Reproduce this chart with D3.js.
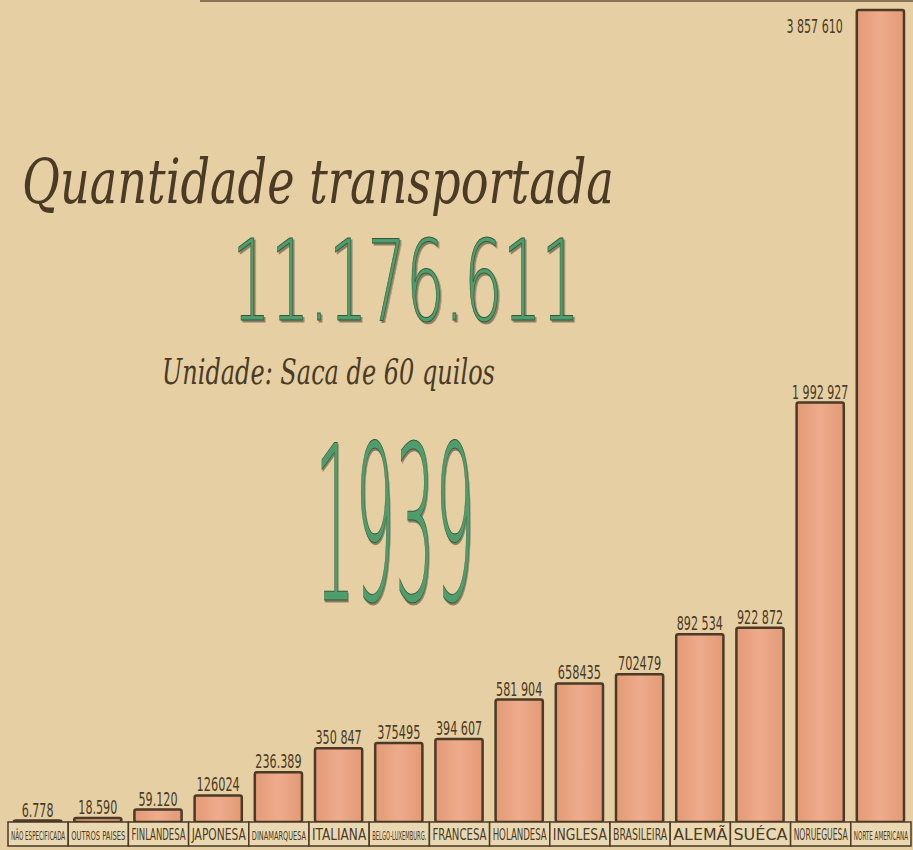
<!DOCTYPE html>
<html>
<head>
<meta charset="utf-8">
<script src="https://cdn.jsdelivr.net/npm/d3@7"></script>
<style>
  html, body { margin: 0; padding: 0; background: #e6cfa3; }
  svg { display: block; }
</style>
</head>
<body>
<div id="chart"></div>
<script>
const width = 913;
const height = 850;

// Bandeiras (categorias)
const categories = [
  "NÃO ESPECIFICADA", "OUTROS PAISES", "FINLANDESA", "JAPONESA", "DINAMARQUESA",
  "ITALIANA", "BELGO-LUXEMBURG.", "FRANCESA", "HOLANDESA", "INGLESA",
  "BRASILEIRA", "ALEMÃ", "SUÉCA", "NORUEGUESA", "NORTE AMERICANA"
];
const values = [
  6778, 18590, 59120, 126024, 236389,
  350847, 375495, 394607, 581904, 658435,
  702479, 892534, 922872, 1992927, 3857610
];
const valueLabels = [
  "6.778", "18.590", "59.120", "126024", "236.389",
  "350 847", "375495", "394 607", "581 904", "658435",
  "702479", "892 534", "922 872", "1 992 927", "3 857 610"
];

const ink = "#4a3a26";
const green = "#4f9d6c";

const svg = d3.select("#chart")
  .append("svg")
  .attr("width", width)
  .attr("height", height);

svg.append("rect")
  .attr("width", width)
  .attr("height", height)
  .attr("fill", "#e6cfa3");

// borda superior
svg.append("line")
  .attr("x1", 200).attr("x2", width)
  .attr("y1", 1).attr("y2", 1)
  .attr("stroke", ink).attr("stroke-width", 2).attr("opacity", 0.6);

const baseY = 822;

const x = d3.scaleBand()
  .domain(categories)
  .range([8, 911])
  .paddingInner(0);

const y = d3.scaleLinear()
  .domain([0, 3857610])
  .range([baseY, 10]);

const defs = svg.append("defs");
const grad = defs.append("linearGradient")
  .attr("id", "barFill")
  .attr("x1", "0").attr("x2", "1");
grad.append("stop").attr("offset", "0").attr("stop-color", "#e39a76");
grad.append("stop").attr("offset", "0.5").attr("stop-color", "#eeab8c");
grad.append("stop").attr("offset", "1").attr("stop-color", "#e39a76");

defs.append("filter")
  .attr("id", "shadow")
  .append("feDropShadow")
  .attr("dx", 3).attr("dy", 2).attr("stdDeviation", 0.4)
  .attr("flood-color", "#3c3a26").attr("flood-opacity", 0.55);

// texto estreito: escala horizontal até a largura desejada
function narrow(sel, targetLen, anchor) {
  sel.each(function (d, i) {
    const t = d3.select(this);
    const w = this.getComputedTextLength();
    const len = typeof targetLen === "function" ? targetLen(d, i) : targetLen;
    const sx = Math.min(1, len / w);
    const x0 = +t.attr("x"), y0 = +t.attr("y");
    t.attr("x", 0).attr("y", 0)
      .attr("text-anchor", anchor)
      .attr("transform", `translate(${x0},${y0}) scale(${sx},1)`);
  });
}

// Barras
svg.selectAll(".bar")
  .data(categories)
  .enter()
  .append("rect")
  .attr("class", "bar")
  .attr("x", d => x(d) + 6)
  .attr("y", (d, i) => y(values[i]))
  .attr("width", x.bandwidth() - 13)
  .attr("height", (d, i) => baseY - y(values[i]))
  .attr("rx", 2)
  .attr("fill", "url(#barFill)")
  .attr("stroke", ink)
  .attr("stroke-width", 2.5);

const labelLen = s => s.replace(/[^0-9]/g, "").length * 7.2 + s.replace(/[0-9]/g, "").length * 3;

// Valores
const last = categories.length - 1;
svg.selectAll(".val")
  .data(categories)
  .enter()
  .append("text")
  .attr("class", "val")
  .attr("x", (d, i) => i === last ? x(d) - 8 : x(d) + x.bandwidth() / 2 - 0.5)
  .attr("y", (d, i) => i === last ? 33 : y(values[i]) - 4)
  .attr("font-family", "'DejaVu Sans', sans-serif")
  .attr("font-size", 19)
  .attr("fill", ink)
  .text((d, i) => valueLabels[i])
  .call(narrow, (d, i) => labelLen(valueLabels[i]), null);

svg.selectAll(".val")
  .attr("text-anchor", (d, i) => i === last ? "end" : "middle");

// Caixas dos rótulos
const lab = svg.selectAll(".lab")
  .data(categories)
  .enter()
  .append("g")
  .attr("class", "lab")
  .attr("transform", d => `translate(${x(d)},${baseY})`);

lab.append("rect")
  .attr("width", x.bandwidth())
  .attr("height", 24)
  .attr("fill", "#ead8b2")
  .attr("stroke", ink)
  .attr("stroke-width", 1.5);

lab.append("text")
  .attr("x", x.bandwidth() / 2)
  .attr("y", 18)
  .attr("font-family", "'DejaVu Sans', sans-serif")
  .attr("font-size", d => d.length > 10 ? 13 : 16)
  .attr("fill", ink)
  .text(d => d)
  .call(narrow, x.bandwidth() - 6, "middle");

// Títulos
svg.append("text")
  .attr("x", 22)
  .attr("y", 203)
  .attr("font-family", "'DejaVu Serif', serif")
  .attr("font-style", "italic")
  .attr("font-size", 62)
  .attr("fill", ink)
  .text("Quantidade transportada")
  .call(narrow, 592, "start");

function greenText(txt, cx, by, size, len) {
  svg.append("text")
    .attr("x", cx).attr("y", by)
    .attr("font-family", "'DejaVu Sans', sans-serif")
    .attr("font-weight", 200)
    .attr("font-size", size)
    .attr("fill", green)
    .attr("stroke", "#2f5a3c")
    .attr("stroke-width", 1)
    .attr("filter", "url(#shadow)")
    .text(txt)
    .call(narrow, len, "middle");
}

greenText("11.176.611", 406, 320, 112, 348);

svg.append("text")
  .attr("x", 162)
  .attr("y", 384)
  .attr("font-family", "'DejaVu Serif', serif")
  .attr("font-style", "italic")
  .attr("font-size", 36)
  .attr("fill", ink)
  .text("Unidade: Saca de 60 quilos")
  .call(narrow, 333, "start");

greenText("1939", 395, 600, 215, 160);
</script>
</body>
</html>
